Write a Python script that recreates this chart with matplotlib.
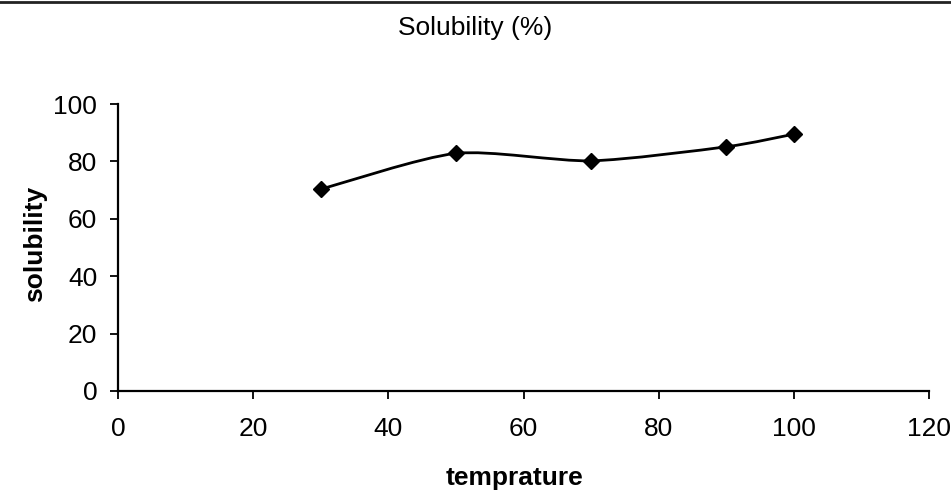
import matplotlib
matplotlib.use("Agg")
import matplotlib.pyplot as plt
import numpy as np
from matplotlib.path import Path
from matplotlib.patches import PathPatch
from matplotlib.lines import Line2D

temperature = [30, 50, 70, 90, 100]
solubility = [70.3, 82.8, 80.2, 85.1, 89.5]
x_ticks = [0, 20, 40, 60, 80, 100, 120]
y_ticks = [0, 20, 40, 60, 80, 100]

plt.rcParams['font.family'] = ['Liberation Sans', 'DejaVu Sans']

fig = plt.figure(figsize=(9.51, 4.91), dpi=100)
ax = fig.add_axes([118/951, 1-391/491, (929-118)/951, (391-104)/491])

# smooth (Catmull-Rom style Bezier) through the data points
pts = np.column_stack([temperature, solubility]).astype(float)
verts = [tuple(pts[0])]
codes = [Path.MOVETO]
n = len(pts)
for i in range(n - 1):
    p0 = pts[i - 1] if i > 0 else pts[i]
    p1 = pts[i]
    p2 = pts[i + 1]
    p3 = pts[i + 2] if i + 2 < n else pts[i + 1]
    c1 = p1 + (p2 - p0) / 8.0
    c2 = p2 - (p3 - p1) / 8.0
    verts += [tuple(c1), tuple(c2), tuple(p2)]
    codes += [Path.CURVE4, Path.CURVE4, Path.CURVE4]
ax.add_patch(PathPatch(Path(verts, codes), facecolor='none', edgecolor='black', lw=2.0))
ax.plot(temperature, solubility, linestyle='none', marker='D', markersize=8,
        color='black')

ax.set_xlim(0, 120)
ax.set_ylim(0, 100)
ax.set_xticks(x_ticks)
ax.set_yticks(y_ticks)
for s in ['top', 'right']:
    ax.spines[s].set_visible(False)
for s in ['left', 'bottom']:
    ax.spines[s].set_linewidth(1.6)
ax.tick_params(axis='x', direction='out', length=6, width=1.3, pad=13, labelsize=19)
ax.tick_params(axis='y', direction='out', length=6, width=1.3, pad=9, labelsize=19)

fig.text(0.5, 1-28/491, 'Solubility (%)', ha='center', va='center', fontsize=19)
fig.text(515/951, 1-478/491, 'temprature', ha='center', va='center', fontsize=19,
         fontweight='bold')
fig.text(35/951, 1-244/491, 'solubility', ha='center', va='center', fontsize=19,
         fontweight='bold', rotation=90)

fig.add_artist(Line2D([0, 1], [1-1.5/491, 1-1.5/491], color='#222222', lw=2,
                      transform=fig.transFigure))

fig.savefig('out.png', dpi=100)
